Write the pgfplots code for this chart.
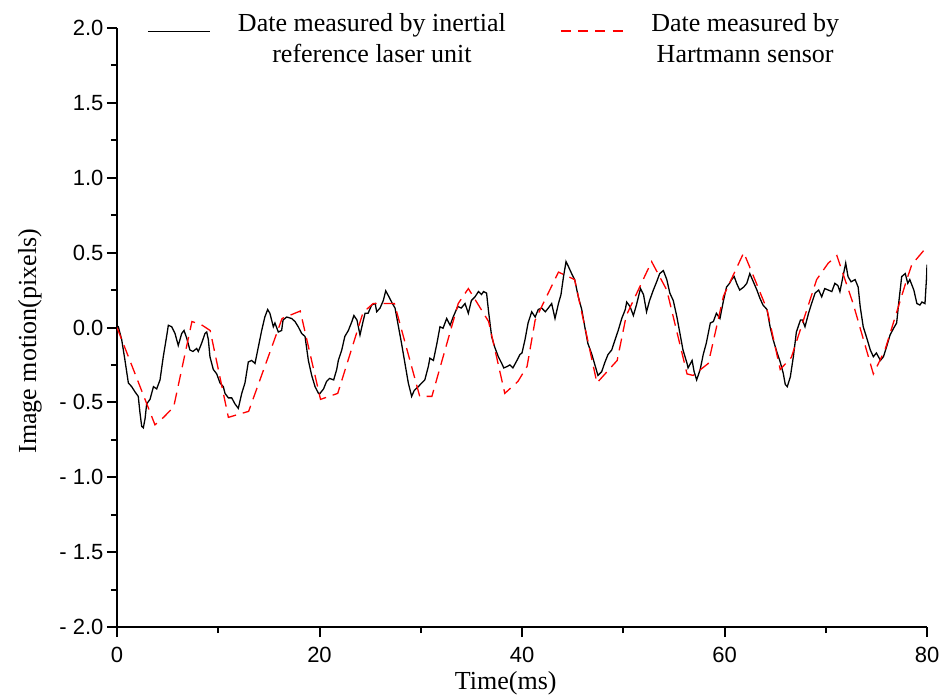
\documentclass[border=0pt]{standalone}
\usepackage{fontspec}
\setmainfont{Liberation Serif}
\setsansfont{Liberation Sans}
\usepackage{pgfplots}
\pgfplotsset{compat=1.18}
\begin{document}
\begin{tikzpicture}
\useasboundingbox (0,0) rectangle (950pt,697pt);
\begin{axis}[
  at={(117pt,70pt)}, anchor=south west,
  scale only axis, width=810pt, height=599pt,
  xmin=0, xmax=80, ymin=-2, ymax=2,
  axis lines=left,
  axis line style={-, line width=2pt, black},
  tick align=outside,
  major tick length=10pt, minor tick length=6pt,
  every tick/.style={line width=2pt, black},
  xtick={0,20,40,60,80}, xticklabels={0,20,40,60,80},
  minor xtick={10,30,50,70},
  ytick={-2,-1.5,-1,-0.5,0,0.5,1,1.5,2},
  yticklabels={- 2.0,- 1.5,- 1.0,- 0.5,0.0,0.5,1.0,1.5,2.0},
  minor ytick={-1.75,-1.25,-0.75,-0.25,0.25,0.75,1.25,1.75},
  ticklabel style={font=\sffamily\fontsize{22}{26}\selectfont},
  xticklabel style={yshift=-7pt},
  xlabel={Time(ms)},
  ylabel={Image motion(pixels)},
  label style={font=\fontsize{26}{31}\selectfont},
  xlabel style={at={(axis description cs:0.48,0)}, anchor=center, yshift=-56pt},
  ylabel style={at={(axis description cs:0,0.477)}, anchor=center, yshift=87pt},
  legend columns=2,
  legend style={draw=none, fill=none, inner sep=0pt,
    at={(axis description cs:0,1)}, anchor=north west, xshift=30pt, yshift=17pt,
    font=\fontsize{26}{31}\selectfont, nodes={align=center},
    /tikz/every odd column/.append style={column sep=25.5pt},
    /tikz/every even column/.append style={column sep=52pt}},
  legend image code/.code={\draw[#1] (0pt,7pt) -- (62pt,7pt);},
]
\addplot[black, line width=1.3pt] coordinates {
(0,0) (0.13,0.005) (0.46,-0.08) (0.79,-0.22) (1.12,-0.37) (1.45,-0.395) (1.78,-0.43) (2.1,-0.46)
(2.27,-0.57) (2.44,-0.66) (2.6,-0.67) (2.77,-0.61) (2.93,-0.51) (3.26,-0.48) (3.6,-0.395) (3.92,-0.41)
(4.25,-0.35) (4.57,-0.195) (4.9,-0.06) (5.07,0.015) (5.4,0.005) (5.73,-0.04) (6.05,-0.12) (6.39,-0.04)
(6.62,-0.02) (6.88,-0.07) (7.2,-0.15) (7.5,-0.16) (7.87,-0.14) (8.03,-0.16) (8.36,-0.105) (8.69,-0.04)
(8.86,-0.03) (9.02,-0.08) (9.18,-0.195) (9.51,-0.28) (9.85,-0.31) (10.17,-0.37) (10.5,-0.395) (10.67,-0.44)
(11.0,-0.47) (11.33,-0.47) (11.65,-0.51) (11.98,-0.54) (12.32,-0.44) (12.64,-0.37) (12.97,-0.23) (13.3,-0.22)
(13.63,-0.24) (13.96,-0.13) (14.29,-0.02) (14.6,0.07) (14.88,0.12) (15.1,0.095) (15.44,0.005) (15.6,0.03)
(15.93,-0.03) (16.26,-0.02) (16.4,0.05) (16.76,0.07) (17.25,0.06) (17.58,0.04) (17.9,0.005) (18.24,-0.04)
(18.57,-0.06) (18.9,-0.22) (19.23,-0.32) (19.56,-0.395) (19.9,-0.44) (20.05,-0.44) (20.4,-0.41) (20.7,-0.36)
(21.0,-0.34) (21.4,-0.35) (21.7,-0.28) (21.86,-0.22) (22.2,-0.15) (22.5,-0.06) (22.85,-0.02) (23.2,0.04)
(23.4,0.08) (23.7,0.05) (24.0,-0.05) (24.3,0.04) (24.5,0.095) (24.8,0.095) (25.15,0.15) (25.5,0.16)
(25.65,0.105) (25.98,0.13) (26.3,0.18) (26.54,0.245) (26.86,0.205) (27.2,0.16) (27.46,0.13) (27.8,0.005)
(28.1,-0.105) (28.44,-0.24) (28.77,-0.37) (29.1,-0.46) (29.36,-0.42) (29.76,-0.395) (30.1,-0.37) (30.4,-0.35)
(30.75,-0.26) (30.9,-0.205) (31.25,-0.22) (31.6,-0.105) (31.9,0.005) (32.2,-0.005) (32.56,0.06) (32.9,0.015)
(33.2,0.07) (33.65,0.14) (34.0,0.13) (34.37,0.16) (34.7,0.095) (35.0,0.18) (35.36,0.205) (35.7,0.24)
(36.0,0.22) (36.2,0.24) (36.5,0.23) (36.7,0.105) (37.0,-0.06) (37.3,-0.13) (37.66,-0.195) (38.0,-0.24)
(38.2,-0.27) (38.55,-0.26) (38.8,-0.25) (39.1,-0.27) (39.5,-0.22) (39.8,-0.18) (40.0,-0.17) (40.3,-0.08)
(40.6,0.03) (40.96,0.105) (41.3,0.07) (41.6,0.12) (41.95,0.13) (42.3,0.105) (42.6,0.13) (42.93,0.16)
(43.26,0.06) (43.6,0.16) (43.85,0.22) (44.1,0.34) (44.35,0.44) (44.6,0.405) (44.9,0.36) (45.2,0.32)
(45.56,0.205) (45.9,0.12) (46.2,0.005) (46.5,-0.105) (46.9,-0.18) (47.2,-0.25) (47.5,-0.32) (47.87,-0.295)
(48.2,-0.23) (48.5,-0.18) (48.86,-0.15) (49.2,-0.08) (49.5,-0.02) (49.85,0.06) (50.2,0.12) (50.34,0.17)
(50.67,0.14) (51.0,0.08) (51.3,0.15) (51.7,0.26) (52.0,0.22) (52.3,0.105) (52.6,0.18) (52.97,0.25)
(53.3,0.305) (53.6,0.36) (53.96,0.38) (54.3,0.32) (54.6,0.23) (54.94,0.18) (55.3,0.07) (55.6,-0.04)
(55.9,-0.15) (56.3,-0.24) (56.4,-0.27) (56.8,-0.22) (57.0,-0.295) (57.25,-0.35) (57.6,-0.28) (57.9,-0.18)
(58.2,-0.105) (58.6,0.03) (58.9,0.04) (59.2,0.095) (59.55,0.06) (59.9,0.18) (60.2,0.27) (60.5,0.295)
(60.7,0.32) (60.96,0.34) (61.2,0.295) (61.5,0.25) (61.9,0.27) (62.2,0.295) (62.5,0.36) (62.85,0.305)
(63.2,0.25) (63.5,0.195) (63.8,0.15) (64.2,0.12) (64.5,0.005) (64.8,-0.08) (65.2,-0.17) (65.5,-0.23)
(65.8,-0.305) (66.0,-0.38) (66.2,-0.395) (66.5,-0.33) (66.8,-0.195) (67.1,-0.03) (67.5,0.05) (67.7,0.05)
(67.95,0.005) (68.3,0.095) (68.6,0.16) (68.95,0.23) (69.3,0.25) (69.6,0.205) (69.9,0.26) (70.25,0.25)
(70.6,0.24) (70.9,0.295) (71.2,0.28) (71.4,0.24) (71.7,0.34) (71.97,0.43) (72.2,0.34) (72.5,0.305)
(72.9,0.32) (73.2,0.27) (73.4,0.14) (73.7,0.005) (74.05,-0.07) (74.4,-0.15) (74.7,-0.195) (75.0,-0.17)
(75.4,-0.22) (75.7,-0.195) (76.0,-0.13) (76.35,-0.05) (76.7,-0.005) (77.0,0.03) (77.2,0.16) (77.5,0.34)
(77.85,0.36) (78.1,0.295) (78.3,0.32) (78.7,0.25) (79.0,0.16) (79.3,0.15) (79.5,0.17) (79.8,0.16)
(79.96,0.34) (80.0,0.42)
};
\addlegendentry{Date measured by inertial\\reference laser unit}
\addplot[red, line width=1.3pt, dash pattern=on 12pt off 7pt, forget plot] coordinates {
(0,0) (3.75,-0.65) (4.6,-0.60) (5.6,-0.53) (7.4,0.04) (8.3,0.02) (9.2,-0.02) (11.0,-0.60)
(13.0,-0.56) (16.3,0.06) (18.1,0.11) (20.1,-0.48) (21.8,-0.44) (24.3,0.10) (25.3,0.16) (27.4,0.16)
(29.9,-0.46) (31.1,-0.46) (33.7,0.16) (34.7,0.26) (36.7,0.04) (38.3,-0.44) (39.6,-0.36) (40.5,-0.26)
(41.3,0.05) (43.6,0.37) (45.2,0.32) (47.4,-0.37) (49.4,-0.22) (50.3,0.08) (52.8,0.44) (54.3,0.25)
(56.3,-0.31) (56.9,-0.32) (58.4,-0.24) (59.9,0.21) (61.9,0.50) (63.0,0.32) (64.2,0.12) (65.5,-0.28)
(66.6,-0.20) (69.1,0.32) (70.25,0.43) (71.1,0.48) (72.7,0.16) (74.7,-0.31) (75.85,-0.15) (78.0,0.32)
(78.5,0.42) (80.0,0.54)
};
\addlegendimage{color=red, line width=2pt, dash pattern=on 10pt off 7.3pt}
\addlegendentry{Date measured by\\Hartmann sensor}
\end{axis}
\end{tikzpicture}
\end{document}
